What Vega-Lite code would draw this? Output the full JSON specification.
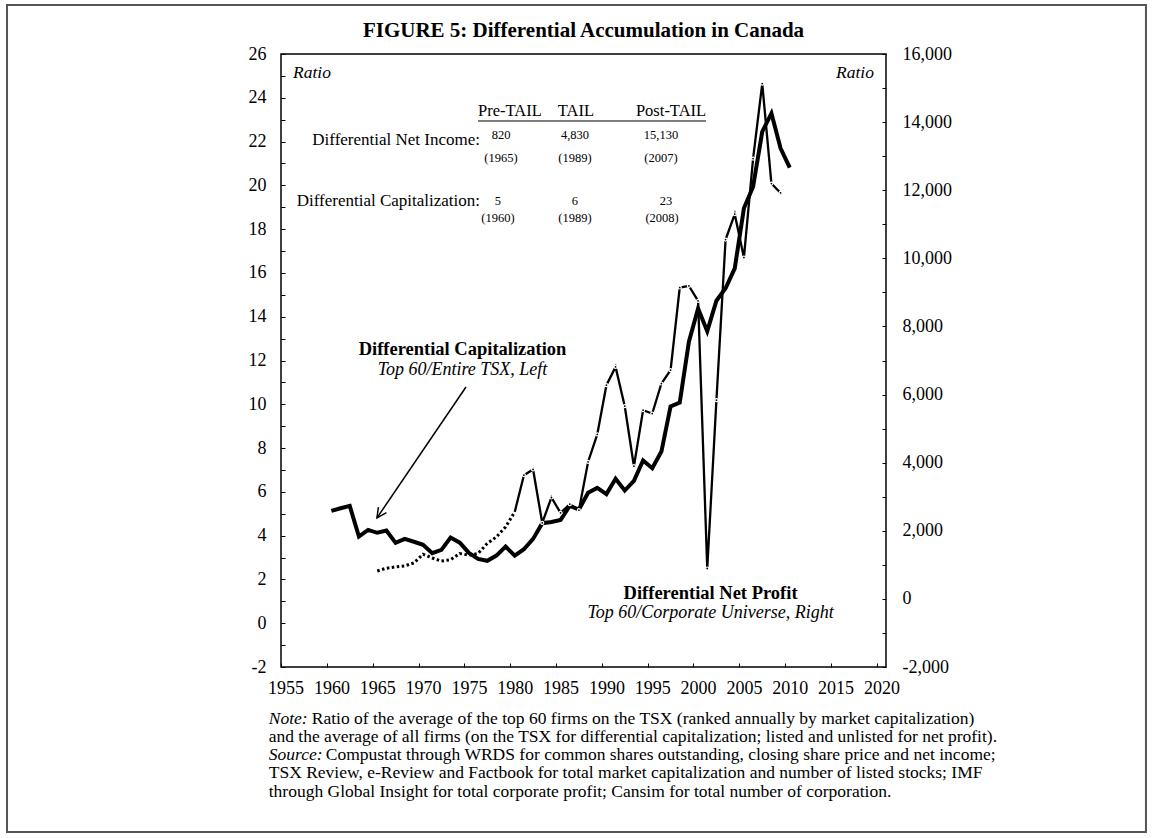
{
  "$schema": "https://vega.github.io/schema/vega-lite/v6.json",
  "width": 605,
  "height": 613,
  "autosize": "none",
  "padding": {"left": 281, "top": 54, "right": 266, "bottom": 171},
  "background": "white",
  "title": {
    "text": "FIGURE 5:  Differential Accumulation in Canada",
    "font": "Liberation Serif",
    "fontSize": 21,
    "fontWeight": "bold",
    "color": "black",
    "anchor": "middle",
    "offset": -37
  },
  "config": {
    "view": {"stroke": "black", "strokeWidth": 1.5},
    "font": "Liberation Serif",
    "axis": {
      "labelFont": "Liberation Serif",
      "labelFontSize": 18,
      "labelColor": "black",
      "tickColor": "black",
      "grid": false,
      "domain": false,
      "labelOverlap": false,
      "labelFlush": false,
      "labelBound": false
    }
  },
  "datasets": {
    "cap": [
      {"year": 1960, "cap": 5.13}, {"year": 1961, "cap": 5.25}, {"year": 1962, "cap": 5.36},
      {"year": 1963, "cap": 3.96}, {"year": 1964, "cap": 4.26}, {"year": 1965, "cap": 4.13},
      {"year": 1966, "cap": 4.23}, {"year": 1967, "cap": 3.67}, {"year": 1968, "cap": 3.85},
      {"year": 1969, "cap": 3.72}, {"year": 1970, "cap": 3.58}, {"year": 1971, "cap": 3.2},
      {"year": 1972, "cap": 3.35}, {"year": 1973, "cap": 3.91}, {"year": 1974, "cap": 3.68},
      {"year": 1975, "cap": 3.21}, {"year": 1976, "cap": 2.94}, {"year": 1977, "cap": 2.85},
      {"year": 1978, "cap": 3.09}, {"year": 1979, "cap": 3.5}, {"year": 1980, "cap": 3.09},
      {"year": 1981, "cap": 3.38}, {"year": 1982, "cap": 3.85}, {"year": 1983, "cap": 4.57},
      {"year": 1984, "cap": 4.62}, {"year": 1985, "cap": 4.72}, {"year": 1986, "cap": 5.36},
      {"year": 1987, "cap": 5.19}, {"year": 1988, "cap": 5.96}, {"year": 1989, "cap": 6.18},
      {"year": 1990, "cap": 5.9}, {"year": 1991, "cap": 6.6}, {"year": 1992, "cap": 6.06},
      {"year": 1993, "cap": 6.5}, {"year": 1994, "cap": 7.43}, {"year": 1995, "cap": 7.08},
      {"year": 1996, "cap": 7.84}, {"year": 1997, "cap": 9.9}, {"year": 1998, "cap": 10.08},
      {"year": 1999, "cap": 12.86}, {"year": 2000, "cap": 14.38}, {"year": 2001, "cap": 13.34},
      {"year": 2002, "cap": 14.73}, {"year": 2003, "cap": 15.3}, {"year": 2004, "cap": 16.21},
      {"year": 2005, "cap": 18.95}, {"year": 2006, "cap": 19.94}, {"year": 2007, "cap": 22.45},
      {"year": 2008, "cap": 23.29}, {"year": 2009, "cap": 21.69}, {"year": 2010, "cap": 20.81}
    ],
    "np": [
      {"year": 1965, "np": 820}, {"year": 1966, "np": 901}, {"year": 1967, "np": 940},
      {"year": 1968, "np": 969}, {"year": 1969, "np": 1057}, {"year": 1970, "np": 1312},
      {"year": 1971, "np": 1200}, {"year": 1972, "np": 1110}, {"year": 1973, "np": 1150},
      {"year": 1974, "np": 1333}, {"year": 1975, "np": 1283}, {"year": 1976, "np": 1333},
      {"year": 1977, "np": 1627}, {"year": 1978, "np": 1820}, {"year": 1979, "np": 2114},
      {"year": 1980, "np": 2555}, {"year": 1981, "np": 3632}, {"year": 1982, "np": 3800},
      {"year": 1983, "np": 2231}, {"year": 1984, "np": 2977}, {"year": 1985, "np": 2525},
      {"year": 1986, "np": 2780}, {"year": 1987, "np": 2604}, {"year": 1988, "np": 4022},
      {"year": 1989, "np": 4830}, {"year": 1990, "np": 6274}, {"year": 1991, "np": 6812},
      {"year": 1992, "np": 5658}, {"year": 1993, "np": 3896}, {"year": 1994, "np": 5540},
      {"year": 1995, "np": 5443}, {"year": 1996, "np": 6324}, {"year": 1997, "np": 6715},
      {"year": 1998, "np": 9143}, {"year": 1999, "np": 9190}, {"year": 2000, "np": 8750},
      {"year": 2001, "np": 892}, {"year": 2002, "np": 5834}, {"year": 2003, "np": 10552},
      {"year": 2004, "np": 11295}, {"year": 2005, "np": 10024}, {"year": 2006, "np": 12930},
      {"year": 2007, "np": 15130}, {"year": 2008, "np": 12196}, {"year": 2009, "np": 11920}
    ],
    "one": [{}]
  },
  "layer": [
    {
      "data": {"name": "cap"},
      "mark": {"type": "line", "color": "black", "strokeWidth": 4, "strokeJoin": "miter"},
      "encoding": {
        "x": {
          "field": "year", "type": "quantitative", "title": null,
          "scale": {"domain": [1954.5, 2020.5], "nice": false, "zero": false},
          "axis": {
            "title": null,
            "values": [1954.5, 1957, 1959.5, 1962, 1964.5, 1967, 1969.5, 1972, 1974.5, 1977, 1979.5, 1982, 1984.5, 1987, 1989.5, 1992, 1994.5, 1997, 1999.5, 2002, 2004.5, 2007, 2009.5, 2012, 2014.5, 2017, 2019.5],
            "labelExpr": "datum.value % 5 == 4.5 ? format(datum.value + 0.5, 'd') : ''",
            "labelOffset": 4.6,
            "tickSize": -4,
            "labelPadding": 16
          }
        },
        "y": {
          "field": "cap", "type": "quantitative", "title": null,
          "scale": {"domain": [-2, 26], "nice": false, "zero": false},
          "axis": {
            "orient": "left",
            "values": [-2, -1, 0, 1, 2, 3, 4, 5, 6, 7, 8, 9, 10, 11, 12, 13, 14, 15, 16, 17, 18, 19, 20, 21, 22, 23, 24, 25, 26],
            "labelExpr": "datum.value % 2 == 0 ? (datum.value < 0 ? '-' + format(-datum.value, 'd') : format(datum.value, 'd')) : ''",
            "tickSize": -4,
            "labelPadding": 19
          }
        }
      }
    },
    {
      "data": {"name": "np"},
      "transform": [{"filter": "datum.year <= 1980"}],
      "mark": {"type": "line", "color": "black", "strokeWidth": 3, "strokeDash": [2.5, 2.5]},
      "encoding": {
        "x": {"field": "year", "type": "quantitative"},
        "y": {
          "field": "np", "type": "quantitative", "title": null,
          "scale": {"domain": [-2000, 16000], "nice": false, "zero": false},
          "axis": {
            "orient": "right",
            "values": [-2000, -1000, 0, 1000, 2000, 3000, 4000, 5000, 6000, 7000, 8000, 9000, 10000, 11000, 12000, 13000, 14000, 15000, 16000],
            "labelExpr": "datum.value % 2000 == 0 ? (datum.value < 0 ? '-' + format(-datum.value, ',') : format(datum.value, ',')) : ''",
            "tickSize": -4,
            "labelPadding": 20
          }
        }
      }
    },
    {
      "data": {"name": "np"},
      "transform": [{"filter": "datum.year >= 1980"}],
      "mark": {"type": "line", "color": "black", "strokeWidth": 2.3},
      "encoding": {
        "x": {"field": "year", "type": "quantitative"},
        "y": {"field": "np", "type": "quantitative", "axis": null, "scale": {"domain": [-2000, 16000], "nice": false, "zero": false}}
      }
    },
    {
      "data": {"name": "np"},
      "transform": [{"filter": "datum.year >= 1981"}],
      "mark": {"type": "point", "filled": true, "fill": "black", "stroke": "white", "strokeWidth": 1.2, "size": 9, "opacity": 1},
      "encoding": {
        "x": {"field": "year", "type": "quantitative"},
        "y": {"field": "np", "type": "quantitative", "axis": null, "scale": {"domain": [-2000, 16000], "nice": false, "zero": false}}
      }
    },
    {
      "data": {"name": "one"},
      "mark": {"type": "rect", "fill": null, "filled": false, "stroke": "#555555", "strokeWidth": 2},
      "encoding": {
        "x": {"datum": 1924.61, "type": "quantitative"},
        "x2": {"datum": 2048.86},
        "y": {"datum": 28.24, "type": "quantitative", "axis": null, "scale": {"domain": [-2, 26], "nice": false, "zero": false}},
        "y2": {"datum": -9.54}
      }
    },
    {
      "data": {"name": "one"},
      "mark": {"type": "text", "font": "Liberation Serif", "fontStyle": "italic", "fontSize": 17.5, "align": "left", "baseline": "middle"},
      "encoding": {
        "x": {"datum": 1955.81, "type": "quantitative"},
        "y": {"datum": 25.13, "type": "quantitative", "axis": null, "scale": {"domain": [-2, 26], "nice": false, "zero": false}},
        "text": {"value": "Ratio"}
      }
    },
    {
      "data": {"name": "one"},
      "mark": {"type": "text", "font": "Liberation Serif", "fontStyle": "italic", "fontSize": 17.5, "align": "right", "baseline": "middle"},
      "encoding": {
        "x": {"datum": 2019.19, "type": "quantitative"},
        "y": {"datum": 25.13, "type": "quantitative", "axis": null, "scale": {"domain": [-2, 26], "nice": false, "zero": false}},
        "text": {"value": "Ratio"}
      }
    },
    {
      "data": {"name": "one"},
      "mark": {"type": "text", "font": "Liberation Serif", "fontSize": 16.5, "align": "center", "baseline": "middle"},
      "encoding": {
        "x": {"datum": 1979.48, "type": "quantitative"},
        "y": {"datum": 23.4, "type": "quantitative", "axis": null, "scale": {"domain": [-2, 26], "nice": false, "zero": false}},
        "text": {"value": "Pre-TAIL"}
      }
    },
    {
      "data": {"name": "one"},
      "mark": {"type": "text", "font": "Liberation Serif", "fontSize": 16.5, "align": "center", "baseline": "middle"},
      "encoding": {
        "x": {"datum": 1986.68, "type": "quantitative"},
        "y": {"datum": 23.4, "type": "quantitative", "axis": null, "scale": {"domain": [-2, 26], "nice": false, "zero": false}},
        "text": {"value": "TAIL"}
      }
    },
    {
      "data": {"name": "one"},
      "mark": {"type": "text", "font": "Liberation Serif", "fontSize": 16.5, "align": "center", "baseline": "middle"},
      "encoding": {
        "x": {"datum": 1997.05, "type": "quantitative"},
        "y": {"datum": 23.4, "type": "quantitative", "axis": null, "scale": {"domain": [-2, 26], "nice": false, "zero": false}},
        "text": {"value": "Post-TAIL"}
      }
    },
    {
      "data": {"name": "one"},
      "mark": {"type": "rule", "color": "black", "strokeWidth": 1},
      "encoding": {
        "x": {"datum": 1975.99, "type": "quantitative"},
        "x2": {"datum": 2000.87},
        "y": {"datum": 22.94, "type": "quantitative", "axis": null, "scale": {"domain": [-2, 26], "nice": false, "zero": false}}
      }
    },
    {
      "data": {"name": "one"},
      "mark": {"type": "text", "font": "Liberation Serif", "fontSize": 17, "align": "right", "baseline": "middle"},
      "encoding": {
        "x": {"datum": 1976.21, "type": "quantitative"},
        "y": {"datum": 22.07, "type": "quantitative", "axis": null, "scale": {"domain": [-2, 26], "nice": false, "zero": false}},
        "text": {"value": "Differential Net Income:"}
      }
    },
    {
      "data": {"name": "one"},
      "mark": {"type": "text", "font": "Liberation Serif", "fontSize": 17, "align": "right", "baseline": "middle"},
      "encoding": {
        "x": {"datum": 1976.21, "type": "quantitative"},
        "y": {"datum": 19.29, "type": "quantitative", "axis": null, "scale": {"domain": [-2, 26], "nice": false, "zero": false}},
        "text": {"value": "Differential Capitalization:"}
      }
    },
    {
      "data": {"name": "one"},
      "mark": {"type": "text", "font": "Liberation Serif", "fontSize": 12.5, "align": "center", "baseline": "middle"},
      "encoding": {
        "x": {"datum": 1978.5, "type": "quantitative"},
        "y": {"datum": 22.3, "type": "quantitative", "axis": null, "scale": {"domain": [-2, 26], "nice": false, "zero": false}},
        "text": {"value": "820"}
      }
    },
    {
      "data": {"name": "one"},
      "mark": {"type": "text", "font": "Liberation Serif", "fontSize": 12.5, "align": "center", "baseline": "middle"},
      "encoding": {
        "x": {"datum": 1978.5, "type": "quantitative"},
        "y": {"datum": 21.25, "type": "quantitative", "axis": null, "scale": {"domain": [-2, 26], "nice": false, "zero": false}},
        "text": {"value": "(1965)"}
      }
    },
    {
      "data": {"name": "one"},
      "mark": {"type": "text", "font": "Liberation Serif", "fontSize": 12.5, "align": "center", "baseline": "middle"},
      "encoding": {
        "x": {"datum": 1986.57, "type": "quantitative"},
        "y": {"datum": 22.3, "type": "quantitative", "axis": null, "scale": {"domain": [-2, 26], "nice": false, "zero": false}},
        "text": {"value": "4,830"}
      }
    },
    {
      "data": {"name": "one"},
      "mark": {"type": "text", "font": "Liberation Serif", "fontSize": 12.5, "align": "center", "baseline": "middle"},
      "encoding": {
        "x": {"datum": 1986.57, "type": "quantitative"},
        "y": {"datum": 21.25, "type": "quantitative", "axis": null, "scale": {"domain": [-2, 26], "nice": false, "zero": false}},
        "text": {"value": "(1989)"}
      }
    },
    {
      "data": {"name": "one"},
      "mark": {"type": "text", "font": "Liberation Serif", "fontSize": 12.5, "align": "center", "baseline": "middle"},
      "encoding": {
        "x": {"datum": 1995.95, "type": "quantitative"},
        "y": {"datum": 22.3, "type": "quantitative", "axis": null, "scale": {"domain": [-2, 26], "nice": false, "zero": false}},
        "text": {"value": "15,130"}
      }
    },
    {
      "data": {"name": "one"},
      "mark": {"type": "text", "font": "Liberation Serif", "fontSize": 12.5, "align": "center", "baseline": "middle"},
      "encoding": {
        "x": {"datum": 1995.95, "type": "quantitative"},
        "y": {"datum": 21.25, "type": "quantitative", "axis": null, "scale": {"domain": [-2, 26], "nice": false, "zero": false}},
        "text": {"value": "(2007)"}
      }
    },
    {
      "data": {"name": "one"},
      "mark": {"type": "text", "font": "Liberation Serif", "fontSize": 12.5, "align": "center", "baseline": "middle"},
      "encoding": {
        "x": {"datum": 1978.17, "type": "quantitative"},
        "y": {"datum": 19.29, "type": "quantitative", "axis": null, "scale": {"domain": [-2, 26], "nice": false, "zero": false}},
        "text": {"value": "5"}
      }
    },
    {
      "data": {"name": "one"},
      "mark": {"type": "text", "font": "Liberation Serif", "fontSize": 12.5, "align": "center", "baseline": "middle"},
      "encoding": {
        "x": {"datum": 1978.17, "type": "quantitative"},
        "y": {"datum": 18.51, "type": "quantitative", "axis": null, "scale": {"domain": [-2, 26], "nice": false, "zero": false}},
        "text": {"value": "(1960)"}
      }
    },
    {
      "data": {"name": "one"},
      "mark": {"type": "text", "font": "Liberation Serif", "fontSize": 12.5, "align": "center", "baseline": "middle"},
      "encoding": {
        "x": {"datum": 1986.57, "type": "quantitative"},
        "y": {"datum": 19.29, "type": "quantitative", "axis": null, "scale": {"domain": [-2, 26], "nice": false, "zero": false}},
        "text": {"value": "6"}
      }
    },
    {
      "data": {"name": "one"},
      "mark": {"type": "text", "font": "Liberation Serif", "fontSize": 12.5, "align": "center", "baseline": "middle"},
      "encoding": {
        "x": {"datum": 1986.57, "type": "quantitative"},
        "y": {"datum": 18.51, "type": "quantitative", "axis": null, "scale": {"domain": [-2, 26], "nice": false, "zero": false}},
        "text": {"value": "(1989)"}
      }
    },
    {
      "data": {"name": "one"},
      "mark": {"type": "text", "font": "Liberation Serif", "fontSize": 12.5, "align": "center", "baseline": "middle"},
      "encoding": {
        "x": {"datum": 1996.5, "type": "quantitative"},
        "y": {"datum": 19.29, "type": "quantitative", "axis": null, "scale": {"domain": [-2, 26], "nice": false, "zero": false}},
        "text": {"value": "23"}
      }
    },
    {
      "data": {"name": "one"},
      "mark": {"type": "text", "font": "Liberation Serif", "fontSize": 12.5, "align": "center", "baseline": "middle"},
      "encoding": {
        "x": {"datum": 1996.07, "type": "quantitative"},
        "y": {"datum": 18.51, "type": "quantitative", "axis": null, "scale": {"domain": [-2, 26], "nice": false, "zero": false}},
        "text": {"value": "(2008)"}
      }
    },
    {
      "data": {"name": "one"},
      "mark": {"type": "text", "font": "Liberation Serif", "fontSize": 18.5, "fontWeight": "bold", "align": "center", "baseline": "middle"},
      "encoding": {
        "x": {"datum": 1974.3, "type": "quantitative"},
        "y": {"datum": 12.53, "type": "quantitative", "axis": null, "scale": {"domain": [-2, 26], "nice": false, "zero": false}},
        "text": {"value": "Differential Capitalization"}
      }
    },
    {
      "data": {"name": "one"},
      "mark": {"type": "text", "font": "Liberation Serif", "fontSize": 18, "fontStyle": "italic", "align": "center", "baseline": "middle"},
      "encoding": {
        "x": {"datum": 1974.3, "type": "quantitative"},
        "y": {"datum": 11.57, "type": "quantitative", "axis": null, "scale": {"domain": [-2, 26], "nice": false, "zero": false}},
        "text": {"value": "Top 60/Entire TSX, Left"}
      }
    },
    {
      "data": {"name": "one"},
      "mark": {"type": "text", "font": "Liberation Serif", "fontSize": 18.5, "fontWeight": "bold", "align": "center", "baseline": "middle"},
      "encoding": {
        "x": {"datum": 2001.36, "type": "quantitative"},
        "y": {"datum": 1.4, "type": "quantitative", "axis": null, "scale": {"domain": [-2, 26], "nice": false, "zero": false}},
        "text": {"value": "Differential Net Profit"}
      }
    },
    {
      "data": {"name": "one"},
      "mark": {"type": "text", "font": "Liberation Serif", "fontSize": 18, "fontStyle": "italic", "align": "center", "baseline": "middle"},
      "encoding": {
        "x": {"datum": 2001.36, "type": "quantitative"},
        "y": {"datum": 0.47, "type": "quantitative", "axis": null, "scale": {"domain": [-2, 26], "nice": false, "zero": false}},
        "text": {"value": "Top 60/Corporate Universe, Right"}
      }
    },
    {
      "data": {"name": "one"},
      "mark": {"type": "rule", "color": "black", "strokeWidth": 1.5},
      "encoding": {
        "x": {"datum": 1974.68, "type": "quantitative"},
        "x2": {"datum": 1964.97},
        "y": {"datum": 10.79, "type": "quantitative", "axis": null, "scale": {"domain": [-2, 26], "nice": false, "zero": false}},
        "y2": {"datum": 4.81}
      }
    },
    {
      "data": {"name": "one"},
      "mark": {"type": "point", "shape": "M-0.5,1L0,0L0.5,1", "filled": false, "stroke": "black", "strokeWidth": 1.5, "size": 380, "angle": 214, "opacity": 1},
      "encoding": {
        "x": {"datum": 1964.97, "type": "quantitative"},
        "y": {"datum": 4.81, "type": "quantitative", "axis": null, "scale": {"domain": [-2, 26], "nice": false, "zero": false}}
      }
    },
    {
      "data": {"name": "one"},
      "mark": {"type": "text", "font": "Liberation Serif", "fontSize": 17.5, "fontStyle": "italic", "align": "left", "baseline": "middle"},
      "encoding": {
        "x": {"datum": 1953.16, "type": "quantitative"},
        "y": {"datum": -4.375, "type": "quantitative", "axis": null, "scale": {"domain": [-2, 26], "nice": false, "zero": false}},
        "text": {"value": "Note:"}
      }
    },
    {
      "data": {"name": "one"},
      "mark": {"type": "text", "font": "Liberation Serif", "fontSize": 17.5, "align": "left", "baseline": "middle", "dx": 43},
      "encoding": {
        "x": {"datum": 1953.16, "type": "quantitative"},
        "y": {"datum": -4.375, "type": "quantitative", "axis": null, "scale": {"domain": [-2, 26], "nice": false, "zero": false}},
        "text": {"value": "Ratio of the average of the top 60 firms on the TSX (ranked annually by market capitalization)"}
      }
    },
    {
      "data": {"name": "one"},
      "mark": {"type": "text", "font": "Liberation Serif", "fontSize": 17.5, "align": "left", "baseline": "middle"},
      "encoding": {
        "x": {"datum": 1953.16, "type": "quantitative"},
        "y": {"datum": -5.21, "type": "quantitative", "axis": null, "scale": {"domain": [-2, 26], "nice": false, "zero": false}},
        "text": {"value": "and the average of all firms (on the TSX for differential capitalization; listed and unlisted for net profit)."}
      }
    },
    {
      "data": {"name": "one"},
      "mark": {"type": "text", "font": "Liberation Serif", "fontSize": 17.5, "fontStyle": "italic", "align": "left", "baseline": "middle"},
      "encoding": {
        "x": {"datum": 1953.16, "type": "quantitative"},
        "y": {"datum": -6.02, "type": "quantitative", "axis": null, "scale": {"domain": [-2, 26], "nice": false, "zero": false}},
        "text": {"value": "Source:"}
      }
    },
    {
      "data": {"name": "one"},
      "mark": {"type": "text", "font": "Liberation Serif", "fontSize": 17.5, "align": "left", "baseline": "middle", "dx": 57},
      "encoding": {
        "x": {"datum": 1953.16, "type": "quantitative"},
        "y": {"datum": -6.02, "type": "quantitative", "axis": null, "scale": {"domain": [-2, 26], "nice": false, "zero": false}},
        "text": {"value": "Compustat through WRDS for common shares outstanding, closing share price and net income;"}
      }
    },
    {
      "data": {"name": "one"},
      "mark": {"type": "text", "font": "Liberation Serif", "fontSize": 17.5, "align": "left", "baseline": "middle"},
      "encoding": {
        "x": {"datum": 1953.16, "type": "quantitative"},
        "y": {"datum": -6.86, "type": "quantitative", "axis": null, "scale": {"domain": [-2, 26], "nice": false, "zero": false}},
        "text": {"value": "TSX Review, e-Review and Factbook for total market capitalization and number of listed stocks; IMF"}
      }
    },
    {
      "data": {"name": "one"},
      "mark": {"type": "text", "font": "Liberation Serif", "fontSize": 17.5, "align": "left", "baseline": "middle"},
      "encoding": {
        "x": {"datum": 1953.16, "type": "quantitative"},
        "y": {"datum": -7.7, "type": "quantitative", "axis": null, "scale": {"domain": [-2, 26], "nice": false, "zero": false}},
        "text": {"value": "through Global Insight for total corporate profit; Cansim for total number of corporation."}
      }
    }
  ],
  "resolve": {"scale": {"y": "independent"}, "axis": {"y": "independent"}}
}
